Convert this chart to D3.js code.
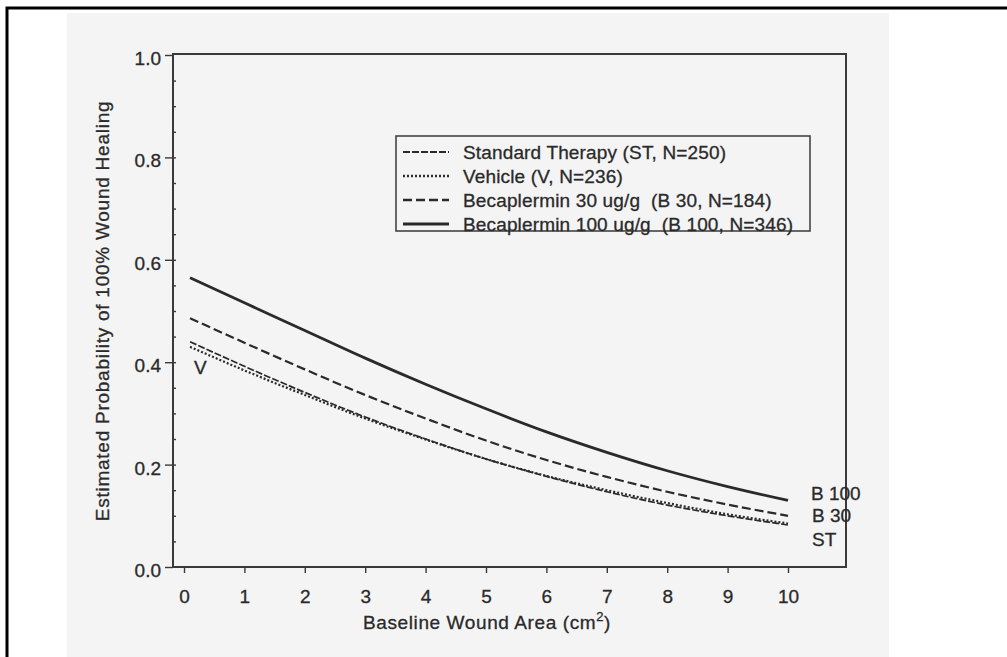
<!DOCTYPE html>
<html>
<head>
    <meta charset="utf-8">
    <title>Wound healing probability</title>
    <script src="https://cdn.jsdelivr.net/npm/d3@7/dist/d3.min.js"></script>
    <style>
        body { margin: 0; background: #fff; }
        svg text { font-family: "Liberation Sans", Arial, sans-serif; fill: #2a2a2a; stroke: #2a2a2a; stroke-width: 0.3; }
        .axis path { display: none; }
        .axis line { stroke: #3a3a3a; stroke-width: 1.4; }
    </style>
</head>
<body>
    <svg width="1007" height="657" id="mainsvg"></svg>
    <script>
        // values
        const areas = [0.1, 1, 2, 3, 4, 5, 6, 7, 8, 9, 10];
        const st = [0.440, 0.392, 0.341, 0.293, 0.250, 0.211, 0.177, 0.147, 0.121, 0.100, 0.082];
        const vehicle = [0.430, 0.384, 0.336, 0.290, 0.249, 0.211, 0.178, 0.150, 0.125, 0.103, 0.085];
        const b30 = [0.486, 0.438, 0.386, 0.336, 0.290, 0.247, 0.209, 0.176, 0.147, 0.122, 0.100];
        const b100 = [0.565, 0.516, 0.462, 0.408, 0.357, 0.309, 0.264, 0.224, 0.188, 0.157, 0.130];
        const legendLabels = ['Standard Therapy (ST, N=250)', 'Vehicle (V, N=236)',
            'Becaplermin 30 ug/g  (B 30, N=184)', 'Becaplermin 100 ug/g  (B 100, N=346)'];
        const yTicks = [0, 0.2, 0.4, 0.6, 0.8, 1.0];
        const xTicks = [0, 1, 2, 3, 4, 5, 6, 7, 8, 9, 10];

        const svg = d3.select('#mainsvg');

        // page border + scanned paper
        svg.append('rect').attr('x', 67).attr('y', 13).attr('width', 822).attr('height', 644).attr('fill', '#f4f4f4');
        svg.append('path').attr('d', 'M7,657 V8 H1007').attr('fill', 'none').attr('stroke', '#000').attr('stroke-width', 3);

        const frame = { left: 173, right: 846, top: 54, bottom: 567 };
        const x = d3.scaleLinear().domain([0, 10]).range([184, 788]);
        const y = d3.scaleLinear().domain([0, 1]).range([567, 55]);

        svg.append('rect')
            .attr('x', frame.left).attr('y', frame.top)
            .attr('width', frame.right - frame.left).attr('height', frame.bottom - frame.top)
            .attr('fill', 'none').attr('stroke', '#3a3a3a').attr('stroke-width', 2);

        // y axis
        const yAxis = svg.append('g').attr('class', 'axis')
            .attr('transform', `translate(${frame.left},0)`)
            .call(d3.axisLeft(y).tickValues(yTicks).tickSize(8).tickPadding(4).tickFormat(d3.format('.1f')));
        yAxis.selectAll('text').attr('font-size', 19).attr('dy', '0.5em');
        // minor ticks pointing in
        svg.append('g').attr('class', 'axis')
            .attr('transform', `translate(${frame.left},0)`)
            .call(d3.axisRight(y).tickValues(d3.range(0.05, 1, 0.05)).tickSize(3).tickFormat(''));

        // x axis
        const xAxis = svg.append('g').attr('class', 'axis')
            .attr('transform', `translate(0,${frame.bottom + 1})`)
            .call(d3.axisBottom(x).tickValues(xTicks).tickSize(5).tickPadding(17));
        xAxis.selectAll('text').attr('font-size', 19);

        // axis titles
        const xt = svg.append('text').attr('x', 487).attr('y', 629)
            .attr('text-anchor', 'middle').attr('font-size', 19).attr('letter-spacing', 0.6);
        xt.append('tspan').text('Baseline Wound Area (cm');
        xt.append('tspan').attr('dy', -8).attr('font-size', 13).text('2');
        xt.append('tspan').attr('dy', 8).text(')');

        svg.append('text')
            .attr('transform', 'translate(109,311) rotate(-90)')
            .attr('text-anchor', 'middle').attr('font-size', 19).attr('letter-spacing', 0.75)
            .text('Estimated Probability of 100% Wound Healing');

        // curves
        const series = [
            { name: 'ST', vals: st, dash: '7,2', width: 1.7 },
            { name: 'V', vals: vehicle, dash: '2,2', width: 2.2 },
            { name: 'B 30', vals: b30, dash: '9,4', width: 2.2 },
            { name: 'B 100', vals: b100, dash: null, width: 2.8 }
        ];
        const line = d3.line()
            .x((d, i) => x(areas[i]))
            .y(d => y(d))
            .curve(d3.curveMonotoneX);

        svg.selectAll('.curve').data(series).join('path')
            .attr('class', 'curve')
            .attr('d', d => line(d.vals))
            .attr('fill', 'none')
            .attr('stroke', '#2a2a2a')
            .attr('stroke-width', d => d.width)
            .attr('stroke-dasharray', d => d.dash);

        // curve labels
        const endLabels = svg.append('g').attr('font-size', 19);
        endLabels.append('text').attr('x', 194).attr('y', 367).attr('dominant-baseline', 'central').text('V');
        endLabels.append('text').attr('x', 811).attr('y', 493).attr('dominant-baseline', 'central').text('B 100');
        endLabels.append('text').attr('x', 812).attr('y', 515).attr('dominant-baseline', 'central').text('B 30');
        endLabels.append('text').attr('x', 812).attr('y', 539).attr('dominant-baseline', 'central').text('ST');

        // legend
        const lg = svg.append('g');
        lg.append('rect').attr('x', 396).attr('y', 136).attr('width', 414).attr('height', 95)
            .attr('fill', 'none').attr('stroke', '#444').attr('stroke-width', 1.6);
        const rows = lg.selectAll('.lrow').data(series).join('g')
            .attr('class', 'lrow')
            .attr('transform', (d, i) => `translate(0,${152 + i * 24})`);
        rows.append('line').attr('x1', 403).attr('x2', 449)
            .attr('stroke', '#2a2a2a')
            .attr('stroke-width', d => d.width + 0.4)
            .attr('stroke-dasharray', d => d.dash);
        rows.append('text').attr('x', 463).attr('dominant-baseline', 'central')
            .attr('font-size', 19).attr('letter-spacing', 0.15)
            .style('white-space', 'pre')
            .text((d, i) => legendLabels[i]);
    </script>
</body>
</html>
